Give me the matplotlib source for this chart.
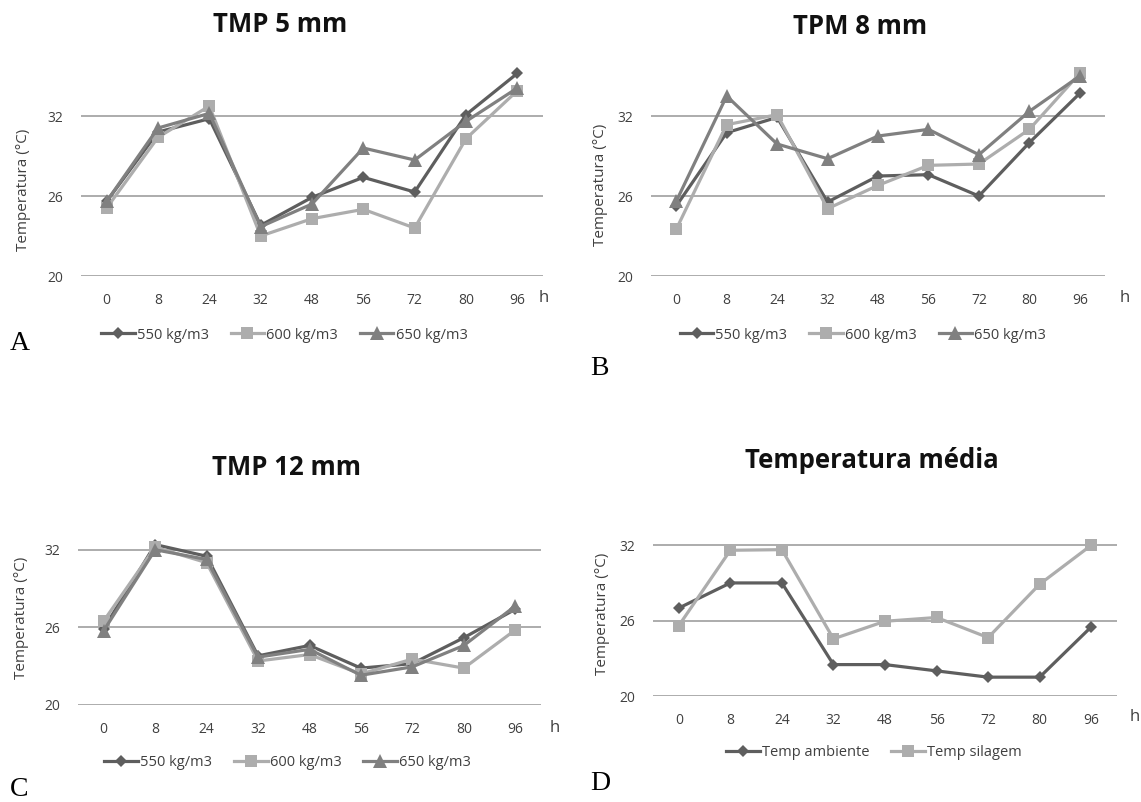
import matplotlib
matplotlib.use("Agg")
import matplotlib.pyplot as plt

plt.rcParams['font.family'] = ['Open Sans', 'DejaVu Sans']

hours = ["0", "8", "24", "32", "48", "56", "72", "80", "96"]

# TMP 5 mm
a_550 = [25.6, 30.8, 31.8, 23.8, 25.9, 27.4, 26.3, 32.1, 35.2]
a_600 = [25.1, 30.4, 32.75, 23.0, 24.3, 25.0, 23.6, 30.3, 33.9]
a_650 = [25.6, 31.1, 32.2, 23.7, 25.4, 29.6, 28.7, 31.6, 34.1]

# TPM 8 mm
b_550 = [25.25, 30.75, 31.9, 25.55, 27.5, 27.6, 26.0, 30.0, 33.7]
b_600 = [23.5, 31.35, 32.1, 25.05, 26.8, 28.3, 28.4, 31.0, 35.2]
b_650 = [25.6, 33.5, 29.9, 28.8, 30.5, 31.0, 29.1, 32.35, 35.0]

# TMP 12 mm
c_550 = [25.9, 32.4, 31.5, 23.8, 24.6, 22.85, 23.2, 25.2, 27.4]
c_600 = [26.5, 32.2, 31.0, 23.4, 23.9, 22.4, 23.55, 22.85, 25.8]
c_650 = [25.75, 32.0, 31.25, 23.7, 24.3, 22.3, 22.95, 24.6, 27.65]

# Temperatura média
d_amb = [27.0, 29.0, 29.0, 22.5, 22.5, 22.0, 21.5, 21.5, 25.5]
d_sil = [25.6, 31.6, 31.65, 24.55, 25.95, 26.25, 24.65, 28.9, 32.0]

density_labels = ["550 kg/m3", "600 kg/m3", "650 kg/m3"]
mean_labels = ["Temp ambiente", "Temp silagem"]
yticks = [20, 26, 32]

C_DARK = "#5e5e5e"
C_LIGHT = "#adadad"
C_MID = "#808080"
TXT = "#404040"
GRID = "#a6a6a6"

styles = [
    dict(color=C_DARK, marker="D", markersize=6.5),
    dict(color=C_LIGHT, marker="s", markersize=9),
    dict(color=C_MID, marker="^", markersize=10),
]

W, H = 1141, 802
fig = plt.figure(figsize=(W / 100, H / 100), dpi=100)


def ftext(x, y, s, **kw):
    return fig.text(x / W, 1 - y / H, s, **kw)


def panel(box, series, labels, title, title_xy, h_xy, ylab_xy,
          letter, letter_xy, leg_x, leg_y):
    x0, x1, ytop, ybot = box
    ax = fig.add_axes([x0 / W, (H - ybot) / H, (x1 - x0) / W, (ybot - ytop) / H])
    xs = list(range(len(hours)))
    handles = []
    for vals, lab, st in zip(series, labels, styles):
        ln, = ax.plot(xs, vals, linewidth=2.3, markeredgewidth=0,
                      label=lab, **st)
        handles.append(ln)
    ax.set_xlim(-0.5, len(hours) - 0.5)
    ax.set_ylim(20, 36)
    ax.set_yticks(yticks)
    ax.set_xticks(xs)
    ax.set_xticklabels(hours)
    ax.yaxis.grid(True, color=GRID, linewidth=1.3)
    ax.set_axisbelow(True)
    for s in ax.spines.values():
        s.set_visible(False)
    ax.tick_params(length=0, labelsize=10, colors=TXT)
    ax.tick_params(axis="y", pad=13)
    ax.tick_params(axis="x", pad=12)
    ftext(*ylab_xy, "Temperatura (°C)", fontsize=11, color=TXT,
          rotation=90, ha="center", va="center")
    ftext(*h_xy, "h", fontsize=12, color=TXT, ha="center", va="center")
    ftext(*title_xy, title, fontsize=18.5, fontweight="bold",
          color="#111111", ha="center", va="center")
    ftext(*letter_xy, letter, family="Liberation Serif", fontsize=20,
          color="black", ha="left", va="center")
    ax.legend(handles=handles, loc="center", ncol=len(handles),
              bbox_to_anchor=(leg_x, leg_y), frameon=False,
              fontsize=10.5, handlelength=2.3, handletextpad=0.15,
              columnspacing=1.5, labelcolor=TXT)
    return ax


panel((81, 543, 62.7, 276), [a_550, a_600, a_650], density_labels,
      "TMP 5 mm", (280, 25), (544, 298), (24, 190),
      "A", (10, 344), 0.44, -0.277)
panel((651, 1105, 62.7, 276), [b_550, b_600, b_650], density_labels,
      "TPM 8 mm", (860, 27), (1125, 298), (601, 185),
      "B", (590, 368), 0.467, -0.277)
panel((78, 541, 498, 705), [c_550, c_600, c_650], density_labels,
      "TMP 12 mm", (286, 468), (555, 728), (22, 618),
      "C", (10, 789), 0.453, -0.28)
panel((653, 1117, 495, 696), [d_amb, d_sil], mean_labels,
      "Temperatura média", (872, 460), (1135, 717), (602, 614),
      "D", (590, 784), 0.476, -0.28)

fig.savefig("out.png", dpi=100, facecolor="white")
